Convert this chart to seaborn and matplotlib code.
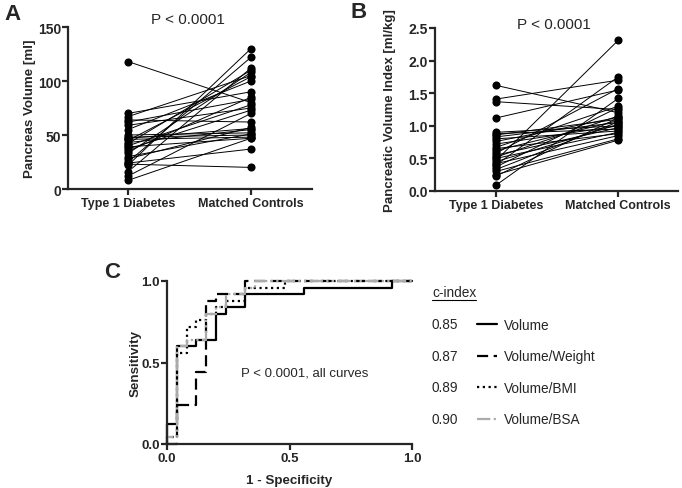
import numpy as np
import pandas as pd
import seaborn as sns
import matplotlib.pyplot as plt
from matplotlib.lines import Line2D

# Paired data
groups = ["Type 1 Diabetes", "Matched Controls"]

volume_t1d = [118, 70, 67, 64, 62, 59, 55, 50, 48, 47, 46, 45, 43, 42,
              40, 39, 37, 35, 33, 30, 28, 25, 24, 23, 22, 16, 12, 8]
volume_ctrl = [80, 90, 105, 62, 83, 75, 100, 52, 50, 56, 48, 104, 55, 110,
               78, 47, 73, 85, 108, 51, 57, 122, 37, 20, 130, 112, 70, 47]

index_t1d = [1.62, 1.41, 1.37, 1.12, 0.90, 0.88, 0.86, 0.83, 0.80, 0.76,
             0.72, 0.67, 0.65, 0.62, 0.58, 0.55, 0.52, 0.50, 0.47, 0.45,
             0.42, 0.40, 0.37, 0.33, 0.30, 0.25, 0.23, 0.09]
index_ctrl = [1.20, 1.70, 1.25, 1.55, 1.00, 0.95, 1.10, 1.05, 0.92, 1.13,
              1.00, 1.30, 0.88, 1.08, 1.57, 0.97, 1.15, 0.90, 2.31, 1.02,
              0.85, 1.75, 1.28, 1.06, 0.80, 0.78, 1.12, 1.42]

# ROC curve vertices (1 - specificity, sensitivity)
roc_names = ["Volume", "Volume/Weight", "Volume/BMI", "Volume/BSA"]
roc_cindex = ["0.85", "0.87", "0.89", "0.90"]
fpr_volume = [0, 0, 0.04, 0.04, 0.12, 0.12, 0.20, 0.20, 0.24, 0.24, 0.32, 0.32, 0.56, 0.56, 0.92, 0.92, 1.0]
tpr_volume = [0, 0.12, 0.12, 0.60, 0.60, 0.64, 0.64, 0.80, 0.80, 0.84, 0.84, 0.92, 0.92, 0.96, 0.96, 1.0, 1.0]
fpr_weight = [0, 0.04, 0.04, 0.12, 0.12, 0.16, 0.16, 0.20, 0.20, 0.32, 0.32, 1.0]
tpr_weight = [0, 0, 0.24, 0.24, 0.44, 0.44, 0.88, 0.88, 0.92, 0.92, 1.0, 1.0]
fpr_bmi = [0, 0, 0.04, 0.04, 0.08, 0.08, 0.12, 0.12, 0.16, 0.16, 0.20, 0.20, 0.24, 0.24, 0.32, 0.32, 0.48, 0.48, 1.0]
tpr_bmi = [0, 0.04, 0.04, 0.56, 0.56, 0.72, 0.72, 0.76, 0.76, 0.80, 0.80, 0.84, 0.84, 0.88, 0.88, 0.96, 0.96, 1.0, 1.0]
fpr_bsa = [0, 0, 0.04, 0.04, 0.08, 0.08, 0.16, 0.16, 0.20, 0.20, 0.24, 0.24, 0.32, 0.32, 0.36, 0.36, 1.0]
tpr_bsa = [0, 0.04, 0.04, 0.60, 0.60, 0.64, 0.64, 0.80, 0.80, 0.84, 0.84, 0.92, 0.92, 0.96, 0.96, 1.0, 1.0]

sns.set_theme(style="ticks")
plt.rcParams['font.family'] = ['Liberation Sans', 'DejaVu Sans']
plt.rcParams['axes.linewidth'] = 1.6
plt.rcParams['xtick.major.width'] = 1.6
plt.rcParams['ytick.major.width'] = 1.6
plt.rcParams['xtick.major.size'] = 4
plt.rcParams['ytick.major.size'] = 4

fig = plt.figure(figsize=(6.82, 4.89), dpi=100)
W, H = 682, 489


def px_axes(l, t, r, b):
    return fig.add_axes([l / W, 1 - b / H, (r - l) / W, (b - t) / H])


def paired(ax, before, after):
    df = pd.DataFrame({
        "pair": list(range(len(before))) * 2,
        "group": [groups[0]] * len(before) + [groups[1]] * len(after),
        "value": before + after,
    })
    df["pos"] = df["group"].map({g: i for i, g in enumerate(groups)})
    sns.lineplot(data=df, x="pos", y="value", units="pair", estimator=None,
                 color="black", lw=0.7, ax=ax, legend=False)
    sns.scatterplot(data=df, x="pos", y="value", color="black", s=34,
                    edgecolor="black", linewidth=0, ax=ax, zorder=3, clip_on=False)
    ax.set_xticks([0, 1])
    ax.set_xticklabels(groups, fontweight="bold", fontsize=9)
    ax.set_xlabel("")
    sns.despine(ax=ax)
    ax.tick_params(axis="y", pad=1)
    ax.tick_params(axis="x", pad=2)


# Panel A
axA = px_axes(68, 28, 312, 190)
paired(axA, volume_t1d, volume_ctrl)
axA.set_xlim(-0.488, 1.496)
axA.set_ylim(0, 150)
axA.set_yticks([0, 50, 100, 150])
axA.set_yticklabels(["0", "50", "100", "150"], fontweight="bold", fontsize=10)
axA.set_ylabel("Pancreas Volume [ml]", fontweight="bold", fontsize=9.6, labelpad=1)
fig.text(188 / W, 1 - 20 / H, "P < 0.0001", ha="center", va="center", fontsize=11)
fig.text(4 / W, 1 - 14 / H, "A", ha="left", va="center", fontsize=16, fontweight="bold")

# Panel B
axB = px_axes(435, 29, 678, 192)
paired(axB, index_t1d, index_ctrl)
axB.set_xlim(-0.5, 1.49)
axB.set_ylim(0, 2.5)
axB.set_yticks([0, 0.5, 1.0, 1.5, 2.0, 2.5])
axB.set_yticklabels(["0.0", "0.5", "1.0", "1.5", "2.0", "2.5"], fontweight="bold", fontsize=10)
axB.set_ylabel("Pancreatic Volume Index [ml/kg]", fontweight="bold", fontsize=9.5, labelpad=9)
fig.text(554 / W, 1 - 25 / H, "P < 0.0001", ha="center", va="center", fontsize=11)
fig.text(350 / W, 1 - 13 / H, "B", ha="left", va="center", fontsize=16, fontweight="bold")

# Panel C
axC = px_axes(167, 282, 412, 445)
curves = [(fpr_volume, tpr_volume), (fpr_weight, tpr_weight), (fpr_bmi, tpr_bmi), (fpr_bsa, tpr_bsa)]
styles = [
    dict(color="black", dashes=None),
    dict(color="black", dashes=(5, 2.5)),
    dict(color="black", dashes=(1, 1.6)),
    dict(color="#ababab", dashes=(6, 1.5, 1, 1.5, 1, 1.5)),
]
handles = []
for (fx, ty), st, name in zip(curves, styles, roc_names):
    d = pd.DataFrame({"fpr": fx, "tpr": ty})
    sns.lineplot(data=d, x="fpr", y="tpr", sort=False, estimator=None,
                 color=st["color"], lw=1.6, ax=axC, legend=False)
    ln = axC.get_lines()[-1]
    ln.set_clip_on(False)
    if st["dashes"] is not None:
        ln.set_dashes(st["dashes"])
    h = Line2D([], [], color=st["color"], lw=1.6)
    if st["dashes"] is not None:
        h.set_dashes(st["dashes"])
    handles.append(h)

axC.set_xlim(0, 1)
axC.set_ylim(0, 1)
axC.set_xticks([0, 0.5, 1.0])
axC.set_yticks([0, 0.5, 1.0])
axC.set_xticklabels(["0.0", "0.5", "1.0"], fontweight="bold", fontsize=9.5)
axC.set_yticklabels(["0.0", "0.5", "1.0"], fontweight="bold", fontsize=9.5)
axC.tick_params(axis="y", pad=1)
axC.tick_params(axis="x", pad=2)
axC.set_xlabel("1 - Specificity", fontweight="bold", fontsize=9.6, labelpad=7)
axC.set_ylabel("Sensitivity", fontweight="bold", fontsize=9.6, labelpad=0)
sns.despine(ax=axC)
axC.text(0.56, 0.44, "P < 0.0001, all curves", ha="center", va="center",
         fontsize=9.5, transform=axC.transAxes)
fig.text(104 / W, 1 - 273 / H, "C", ha="left", va="center", fontsize=16, fontweight="bold")

# c-index key
fig.text(432 / W, 1 - 293 / H, "c-index", ha="left", va="center", fontsize=9.8)
fig.add_artist(Line2D([432 / W, 476 / W], [1 - 301 / H, 1 - 301 / H], color="black", lw=0.8))
for i, c in enumerate(roc_cindex):
    fig.text(432 / W, 1 - (325 + 31.7 * i) / H, c, ha="left", va="center", fontsize=9.8)
fig.legend(handles, roc_names, loc="upper left",
           bbox_to_anchor=(477 / W, 1 - 319 / H), frameon=False, fontsize=9.8,
           handlelength=1.5, handletextpad=0.5, labelspacing=1.28, borderpad=0, borderaxespad=0)

fig.savefig("out.png", dpi=100)
